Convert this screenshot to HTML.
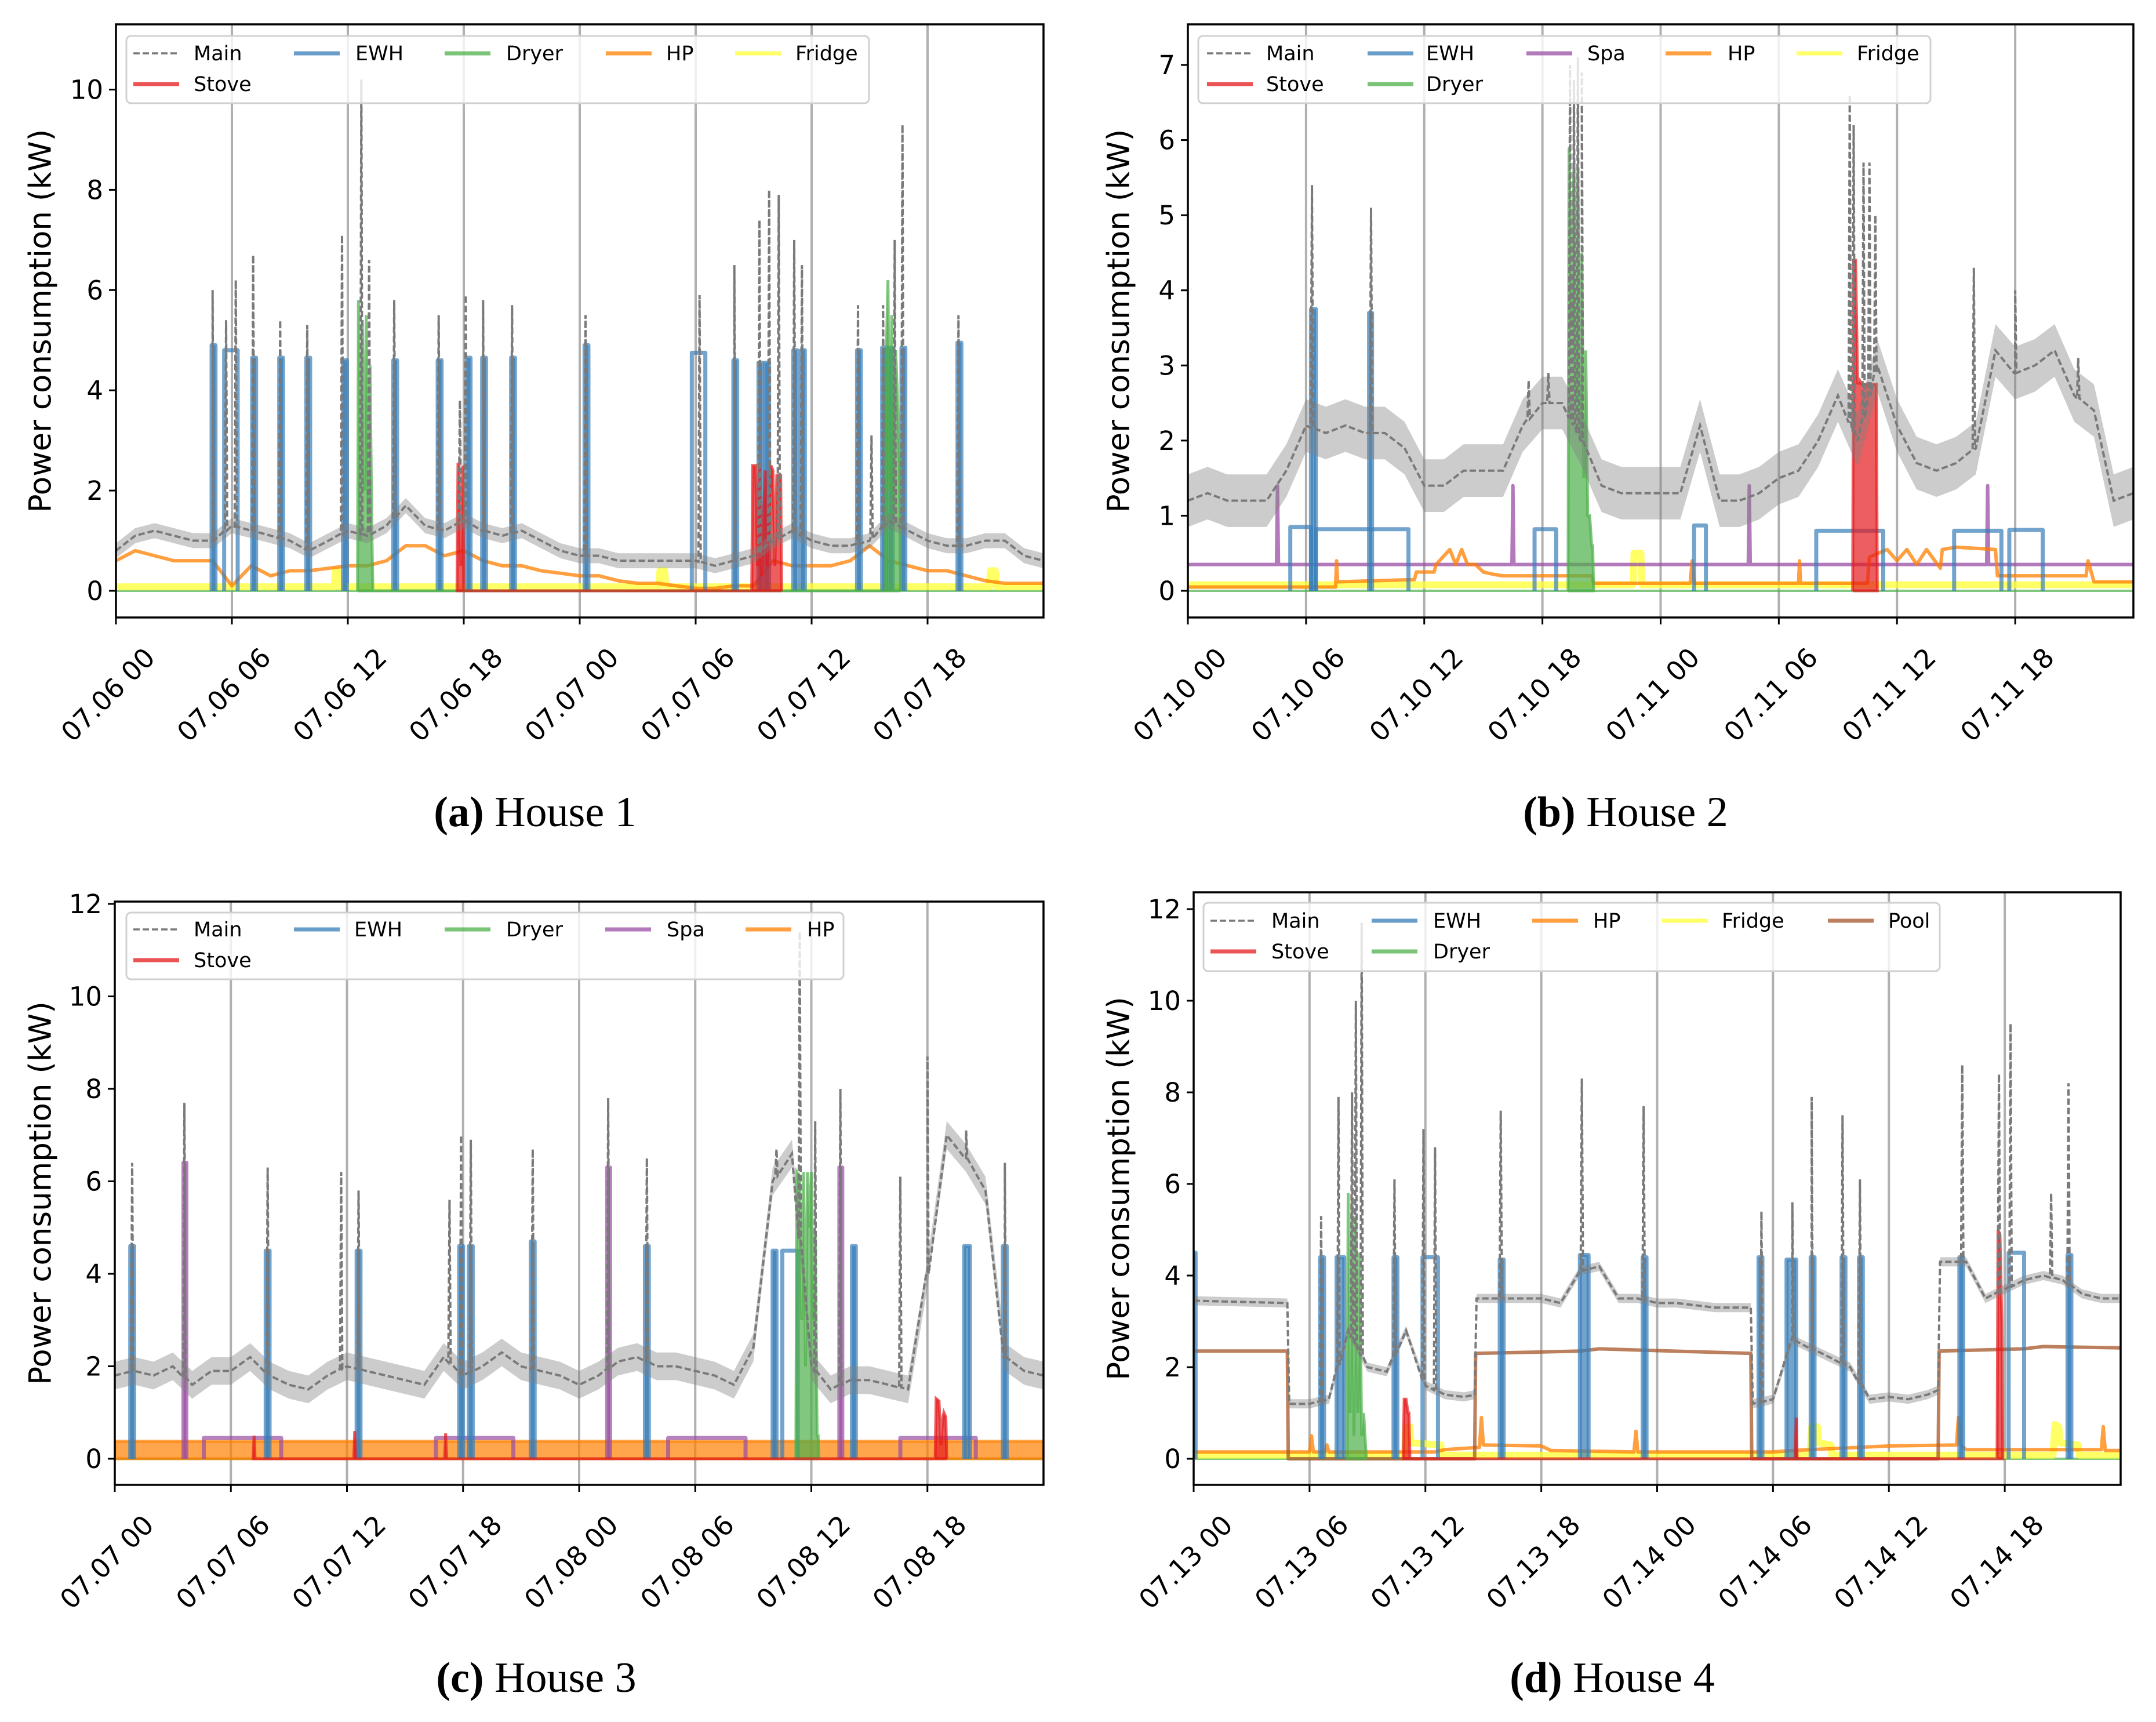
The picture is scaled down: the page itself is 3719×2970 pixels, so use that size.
<!DOCTYPE html>
<html><head><meta charset="utf-8"><style>
html,body{margin:0;padding:0;background:#fff;}
svg{display:block;font-family:"DejaVu Sans","Liberation Sans",sans-serif;}
</style></head><body>
<svg id="fig" width="3719" height="2970" viewBox="0 0 3719 2970" xmlns="http://www.w3.org/2000/svg"></svg>
<script>
const HOURS = [0,1,2,3,4,5,6,7,8,9,10,11,12,13,14,15,16,17,18,19,20,21,22,23,24,25,26,27,28,29,30,31,32,33,34,35,36,37,38,39,40,41,42,43,44,45,46,47,48];
const TICK_HOURS = [0,6,12,18,24,30,36,42];

// ---- House 1 ----
const aXLabels = ['07.06 00','07.06 06','07.06 12','07.06 18','07.07 00','07.07 06','07.07 12','07.07 18'];
const aYTicks = [0,2,4,6,8,10];
const aMainV = [0.8,1.1,1.2,1.1,1.0,1.0,1.3,1.2,1.1,1.0,0.8,1.0,1.2,1.1,1.3,1.7,1.3,1.2,1.4,1.2,1.1,1.2,1.0,0.8,0.7,0.7,0.6,0.6,0.6,0.6,0.6,0.5,0.6,0.7,1.0,1.2,1.0,0.9,0.9,1.0,1.4,1.2,1.0,0.9,0.9,1.0,1.0,0.7,0.6];
const aPeakT = [5.0,5.7,6.2,7.1,8.5,9.9,11.7,12.7,13.1,14.4,16.7,17.8,18.1,19.0,20.5,24.3,30.2,32.0,33.3,33.8,34.3,35.1,35.5,38.4,39.1,39.7,40.3,40.7,43.6];
const aPeakV = [6.0,5.4,6.2,6.7,5.4,5.3,7.1,10.2,6.6,5.8,5.5,3.8,5.9,5.8,5.7,5.5,5.9,6.5,7.4,8.0,7.9,7.0,6.5,5.7,3.1,5.7,7.0,9.3,5.5];
const aEwhS = [4.95,5.6,7.05,8.45,9.85,11.75,14.35,16.65,18.15,18.95,20.45,24.25,29.8,31.95,33.25,33.6,35.05,35.45,38.35,39.65,40.0,40.65,43.55];
const aEwhE = [5.15,6.3,7.25,8.65,10.05,11.95,14.55,16.85,18.35,19.15,20.65,24.45,30.5,32.15,33.45,33.8,35.25,35.65,38.55,39.85,40.2,40.85,43.75];
const aEwhL = [4.9,4.8,4.65,4.65,4.65,4.6,4.6,4.6,4.65,4.65,4.65,4.9,4.75,4.6,4.55,4.55,4.8,4.8,4.8,4.85,4.85,4.85,4.95];
const aDryerT = [12.5,12.55,12.65,12.75,12.85,12.95,13.05,13.15,13.25,13.3,39.8,39.85,39.95,40.05,40.15,40.25,40.35,40.45,40.55,40.6];
const aDryerV = [0,5.8,1.0,5.4,2.0,5.5,1.5,4.5,1.0,0,0,4.5,6.2,2,5.5,1.5,4.8,3.8,2.5,0];
const aStoveT = [17.65,17.7,17.75,17.85,17.95,18.0,32.9,32.95,33.1,33.2,33.3,33.4,33.6,33.7,33.9,34.0,34.1,34.2,34.4,34.45];
const aStoveV = [0,2.55,2.5,0.5,2.5,0,0,2.5,2.5,0.5,2.5,0.3,2.4,0.5,2.5,2.4,0.5,2.3,2.3,0];
const aHpV = [0.6,0.8,0.7,0.6,0.6,0.6,0.1,0.5,0.3,0.4,0.4,0.45,0.5,0.5,0.6,0.9,0.9,0.7,0.8,0.6,0.5,0.5,0.4,0.35,0.3,0.3,0.2,0.15,0.15,0.1,0.05,0.05,0.1,0.1,0.6,0.5,0.5,0.5,0.6,0.9,0.6,0.5,0.4,0.4,0.3,0.2,0.15,0.15,0.15];
const aFridgeT = [0,11.3,11.35,11.5,11.55,28.1,28.15,28.4,28.45,45.2,45.25,45.5,45.55,48];
const aFridgeV = [0.08,0.08,0.4,0.4,0.08,0.08,0.4,0.4,0.08,0.08,0.4,0.4,0.08,0.08];

// ---- House 2 ----
const bXLabels = ['07.10 00','07.10 06','07.10 12','07.10 18','07.11 00','07.11 06','07.11 12','07.11 18'];
const bYTicks = [0,1,2,3,4,5,6,7];
const bMainV = [1.2,1.3,1.2,1.2,1.2,1.6,2.2,2.1,2.2,2.1,2.1,1.9,1.4,1.4,1.6,1.6,1.6,2.2,2.5,2.5,2.0,1.4,1.3,1.3,1.3,1.3,2.2,1.2,1.2,1.3,1.5,1.6,2.0,2.6,2.0,3.0,2.2,1.7,1.6,1.7,1.9,3.2,2.9,3.0,3.2,2.6,2.4,1.2,1.3];
const bPeakT = [6.3,9.3,17.3,18.3,19.4,19.6,19.8,20.0,33.6,33.8,34.3,34.6,34.9,39.9,42.0,45.2];
const bPeakV = [5.4,5.1,2.8,2.9,7.0,6.8,7.1,6.9,6.6,6.2,5.7,5.7,5.0,4.3,4.0,3.1];
const bEwhS = [5.2,6.25,6.5,9.2,17.6,25.7,31.9,38.9,41.7];
const bEwhE = [6.25,6.5,11.2,9.35,18.7,26.3,35.3,41.3,43.4];
const bEwhL = [0.85,3.75,0.82,3.7,0.82,0.87,0.8,0.8,0.81];
const bSpaT = [0,4.5,4.55,4.6,16.45,16.5,16.55,28.45,28.5,28.55,40.55,40.6,40.65,48];
const bSpaV = [0.35,0.35,1.4,0.35,0.35,1.4,0.35,0.35,1.4,0.35,0.35,1.4,0.35,0.35];
const bDryerT = [19.3,19.35,19.5,19.6,19.7,19.8,19.9,20.0,20.1,20.2,20.3,20.4,20.5,20.55,20.6];
const bDryerV = [0,5.9,3.5,5.7,2.5,5.6,2,4.5,1.5,3.2,1.0,1.0,0.6,0.6,0];
const bStoveT = [33.75,33.8,33.9,34.0,34.1,34.2,34.5,34.8,34.95,35.0];
const bStoveV = [0,4.4,4.4,2.75,2.8,2.75,2.75,2.75,2.75,0];
const bHpT = [0,7.5,7.55,7.6,11.5,11.6,12.5,12.6,13.3,13.6,13.9,14.2,14.6,15.0,15.5,16.0,20.5,20.6,25.5,25.6,25.7,31.0,31.05,31.1,34.5,34.6,35.5,36.0,36.5,37.0,37.5,38.2,38.3,39.0,41.0,41.1,45.6,45.7,46.0,48];
const bHpV = [0.05,0.05,0.4,0.12,0.15,0.25,0.25,0.35,0.55,0.35,0.55,0.35,0.35,0.25,0.22,0.2,0.2,0.1,0.1,0.4,0.1,0.1,0.4,0.1,0.1,0.45,0.55,0.4,0.55,0.35,0.55,0.3,0.55,0.58,0.55,0.2,0.2,0.4,0.12,0.12];
const bFridgeT = [0,22.6,22.65,23.0,23.05,48];
const bFridgeV = [0.08,0.08,0.5,0.5,0.08,0.08];

// ---- House 3 ----
const cXLabels = ['07.07 00','07.07 06','07.07 12','07.07 18','07.08 00','07.08 06','07.08 12','07.08 18'];
const cYTicks = [0,2,4,6,8,10,12];
const cMainV = [1.8,1.9,1.8,2.0,1.6,1.9,1.9,2.2,1.8,1.6,1.5,1.8,2.0,1.9,1.8,1.7,1.6,2.2,1.8,2.0,2.3,2.0,1.9,1.8,1.6,1.8,2.1,2.2,2.0,2.0,1.9,1.8,1.6,2.4,6.0,6.6,2.0,1.5,1.7,1.7,1.6,1.5,4.0,7.0,6.5,5.8,2.2,1.9,1.8];
const cPeakT = [0.9,3.6,7.9,11.7,12.6,17.3,17.9,18.4,21.6,25.5,27.5,34.2,35.4,36.2,37.5,40.6,42.0,44.0,46.0];
const cPeakV = [6.4,7.7,6.3,6.2,5.8,5.6,7.0,6.9,6.7,7.8,6.5,6.7,11.4,7.3,8.0,6.1,8.7,7.1,6.4];
const cEwhS = [0.8,7.8,12.5,17.8,18.3,21.5,27.4,34.0,34.5,38.1,43.9,45.9];
const cEwhE = [1.0,8.0,12.7,18.0,18.5,21.7,27.6,34.2,35.3,38.3,44.2,46.1];
const cEwhL = [4.6,4.5,4.5,4.6,4.6,4.7,4.6,4.5,4.5,4.6,4.6,4.6];
const cSpaS = [3.55,4.6,16.6,25.45,28.6,37.45,40.6];
const cSpaE = [3.7,8.6,20.6,25.6,32.6,37.6,44.5];
const cSpaL = [6.4,0.45,0.45,6.3,0.45,6.3,0.45];
const cDryerT = [35.2,35.25,35.4,35.5,35.6,35.7,35.8,35.9,36.0,36.1,36.2,36.3,36.35,36.4];
const cDryerV = [0,6.2,6.1,3,6.2,2,6.2,5,6.2,3,4.9,0.5,0.5,0];
const cStoveT = [7.15,7.2,7.25,12.35,12.4,12.45,17.05,17.1,17.15,42.4,42.45,42.6,42.7,42.8,42.85,42.95,43.0];
const cStoveV = [0,0.5,0,0,0.6,0,0,0.55,0,0,1.3,1.25,0.3,0.9,1.0,0.9,0];
const cHpT = [0,48];
const cHpV = [0.38,0.38];

// ---- House 4 ----
const dXLabels = ['07.13 00','07.13 06','07.13 12','07.13 18','07.14 00','07.14 06','07.14 12','07.14 18'];
const dYTicks = [0,2,4,6,8,10,12];
const dMainT = [0,4.85,4.95,6,7,8,9,10,11,12,13,14,14.55,14.65,16,17,18,19,20,21,22,23,24,25,26,27,28,28.85,28.95,30,31,32,33,34,35,36,37,38,38.55,38.65,40,41,42,43,44,45,46,47,48];
const dMainV = [3.45,3.4,1.2,1.2,1.3,2.8,2.0,1.9,2.8,1.6,1.4,1.35,1.4,3.5,3.5,3.5,3.5,3.4,4.1,4.2,3.5,3.5,3.4,3.4,3.35,3.3,3.3,3.3,1.2,1.3,2.6,2.4,2.2,2.0,1.3,1.35,1.3,1.4,1.5,4.3,4.3,3.5,3.7,3.9,4.0,3.9,3.6,3.5,3.5];
const dPeakT = [6.6,7.5,8.2,8.4,8.7,10.4,11.9,12.5,15.9,20.1,23.3,29.4,31.0,32.0,33.6,34.5,39.8,41.7,42.3,44.4,45.3];
const dPeakV = [5.3,7.9,8.0,10.0,11.7,6.1,7.2,6.8,7.6,8.3,7.7,5.4,5.6,7.9,7.5,6.1,8.6,8.4,9.5,5.8,8.2];
const dEwhS = [0,6.55,7.4,10.35,11.85,15.85,20.0,23.25,29.25,30.7,31.95,33.55,34.45,39.65,42.2,45.25];
const dEwhE = [0.1,6.75,7.8,10.55,12.65,16.05,20.45,23.45,29.45,31.2,32.15,33.75,34.65,39.85,43.0,45.45];
const dEwhL = [4.5,4.4,4.4,4.4,4.4,4.35,4.45,4.4,4.4,4.35,4.4,4.4,4.4,4.4,4.5,4.45];
const dPoolT = [0,4.85,4.9,14.55,14.6,20,21,28.85,28.9,38.55,38.6,43,44,48];
const dPoolV = [2.35,2.35,0,0,2.3,2.35,2.4,2.3,0,0,2.35,2.4,2.45,2.42];
const dDryerT = [7.95,8.0,8.1,8.2,8.3,8.4,8.5,8.6,8.7,8.8,8.9,8.95];
const dDryerV = [0,5.8,1,5.7,0.5,5.3,1,4.5,0.5,1.0,0.3,0];
const dStoveT = [10.85,10.9,11.0,11.1,11.15,11.2,31.15,31.2,31.25,41.6,41.65,41.75,41.85,41.9];
const dStoveV = [0,1.3,1.3,1.0,1.0,0,0,0.9,0,0,5.0,4.9,3.0,0];
const dHpT = [0,6.0,6.1,6.2,6.8,6.9,7.0,12.5,13,14.8,14.9,15.0,18,18.5,22.8,22.9,23.0,30,31,36,39.5,39.6,39.7,40,47.0,47.1,47.2,48];
const dHpV = [0.15,0.15,0.5,0.15,0.15,0.3,0.15,0.15,0.2,0.25,0.9,0.3,0.28,0.18,0.15,0.6,0.15,0.15,0.18,0.28,0.3,0.9,0.3,0.2,0.2,0.7,0.18,0.18];
const dFridgeT = [0,10.9,11.0,11.2,11.25,12.8,12.85,31.9,32.0,32.3,32.35,33.0,33.05,44.5,44.6,44.8,44.85,45.8,45.85,48];
const dFridgeV = [0.08,0.08,0.7,0.7,0.35,0.3,0.08,0.08,0.7,0.7,0.35,0.3,0.08,0.08,0.75,0.7,0.35,0.3,0.08,0.08];

const COL = {main:'#7a7a7a', ewh:'#377eb8', stove:'#e41a1c', dryer:'#4daf4a', spa:'#984ea3', hp:'#ff7f00', fridge:'#ffff33', pool:'#a65628'};
const NS = 'http://www.w3.org/2000/svg';
const svg = document.getElementById('fig');

function mk(tag, attrs, parent){
  const el = document.createElementNS(NS, tag);
  for (const k in attrs) el.setAttribute(k, attrs[k]);
  (parent||svg).appendChild(el);
  return el;
}

const panels = [
  {id:'a', caption:'House 1', x0:200, x1:1800, top:42, bot:1065, y0:1019, yMaxV:10, yMaxPx:154.5, yTicks:aYTicks, xLabels:aXLabels, titleX:70, capX:923, capY:1425, noise:0.15,
   mainT:HOURS, mainV:aMainV, peakT:aPeakT, peakV:aPeakV,
   layers:[
     {kind:'band', name:'fridge', t:aFridgeT, v:aFridgeV},
     {kind:'line', name:'hp', t:HOURS, v:aHpV},
     {kind:'pulse', name:'ewh', s:aEwhS, e:aEwhE, l:aEwhL},
     {kind:'area', name:'dryer', t:aDryerT, v:aDryerV},
     {kind:'area', name:'stove', t:aStoveT, v:aStoveV}],
   legend:{box:[218,62,1499,178], hx:[230,507,767,1045,1268], tx:[334,613,873,1149,1372], ry:[92,145],
     items:[['Main','main',0,0],['EWH','ewh',1,0],['Dryer','dryer',2,0],['HP','hp',3,0],['Fridge','fridge',4,0],['Stove','stove',0,1]]}},
  {id:'b', caption:'House 2', x0:2049, x1:3680, top:42, bot:1065, y0:1019, yMaxV:7, yMaxPx:112, yTicks:bYTicks, xLabels:bXLabels, titleX:1930, capX:2804, capY:1425, noise:0.35,
   mainT:HOURS, mainV:bMainV, peakT:bPeakT, peakV:bPeakV,
   layers:[
     {kind:'band', name:'fridge', t:bFridgeT, v:bFridgeV},
     {kind:'line', name:'spa', t:bSpaT, v:bSpaV},
     {kind:'line', name:'hp', t:bHpT, v:bHpV},
     {kind:'pulse', name:'ewh', s:bEwhS, e:bEwhE, l:bEwhL},
     {kind:'area', name:'dryer', t:bDryerT, v:bDryerV},
     {kind:'area', name:'stove', t:bStoveT, v:bStoveV}],
   legend:{box:[2067,62,3330,178], hx:[2082,2359,2633,2873,3099], tx:[2184,2460,2738,2980,3203], ry:[92,145],
     items:[['Main','main',0,0],['EWH','ewh',1,0],['Spa','spa',2,0],['HP','hp',3,0],['Fridge','fridge',4,0],['Stove','stove',0,1],['Dryer','dryer',1,1]]}},
  {id:'c', caption:'House 3', x0:198, x1:1800, top:1555, bot:2561, y0:2516, yMaxV:12, yMaxPx:1559, yTicks:cYTicks, xLabels:cXLabels, titleX:70, capX:925, capY:2918, noise:0.3,
   mainT:HOURS, mainV:cMainV, peakT:cPeakT, peakV:cPeakV,
   layers:[
     {kind:'area', name:'hp', t:cHpT, v:cHpV},
     {kind:'pulse', name:'spa', s:cSpaS, e:cSpaE, l:cSpaL},
     {kind:'pulse', name:'ewh', s:cEwhS, e:cEwhE, l:cEwhL},
     {kind:'area', name:'dryer', t:cDryerT, v:cDryerV},
     {kind:'area', name:'stove', t:cStoveT, v:cStoveV}],
   legend:{box:[218,1574,1455,1689], hx:[230,507,767,1044,1286], tx:[334,611,873,1150,1392], ry:[1603,1656],
     items:[['Main','main',0,0],['EWH','ewh',1,0],['Dryer','dryer',2,0],['Spa','spa',3,0],['HP','hp',4,0],['Stove','stove',0,1]]}},
  {id:'d', caption:'House 4', x0:2059, x1:3658, top:1539, bot:2561, y0:2516, yMaxV:12, yMaxPx:1568, yTicks:dYTicks, xLabels:dXLabels, titleX:1930, capX:2781, capY:2918, noise:0.1,
   mainT:dMainT, mainV:dMainV, peakT:dPeakT, peakV:dPeakV,
   layers:[
     {kind:'band', name:'fridge', t:dFridgeT, v:dFridgeV},
     {kind:'line', name:'hp', t:dHpT, v:dHpV},
     {kind:'line', name:'pool', t:dPoolT, v:dPoolV},
     {kind:'pulse', name:'ewh', s:dEwhS, e:dEwhE, l:dEwhL},
     {kind:'area', name:'dryer', t:dDryerT, v:dDryerV},
     {kind:'area', name:'stove', t:dStoveT, v:dStoveV}],
   legend:{box:[2076,1557,3346,1675], hx:[2088,2366,2643,2867,3153], tx:[2193,2472,2748,2970,3257], ry:[1588,1641],
     items:[['Main','main',0,0],['EWH','ewh',1,0],['HP','hp',2,0],['Fridge','fridge',3,0],['Pool','pool',4,0],['Stove','stove',0,1],['Dryer','dryer',1,1]]}}
];

function interp(T, V, t){
  if (t <= T[0]) return V[0];
  for (let i=1;i<T.length;i++){ if (t <= T[i]) { const f=(t-T[i-1])/(T[i]-T[i-1]); return V[i-1]+f*(V[i]-V[i-1]); } }
  return V[V.length-1];
}

panels.forEach(P => {
  const xs = t => P.x0 + t/48*(P.x1-P.x0);
  const ys = v => P.y0 - v*(P.y0-P.yMaxPx)/P.yMaxV;
  const g = mk('g', {});
  
  
  const clipId = 'clip'+P.id;
  const cp = mk('clipPath', {id:clipId}, g);
  mk('rect', {x:P.x0, y:P.top, width:P.x1-P.x0, height:P.bot-P.top}, cp);
  const plot = mk('g', {'clip-path':'url(#'+clipId+')'}, g);
  
  

  TICK_HOURS.forEach(h => {
    if (h===0) return;
    const gl = mk('line', {x1:xs(h), x2:xs(h), y1:P.top, y2:P.bot, stroke:'#b0b0b0', 'stroke-width':4}, plot);
    
    
  });

  const zl = mk('line', {x1:P.x0, x2:P.x1, y1:ys(0), y2:ys(0), stroke:COL.dryer, 'stroke-opacity':0.7, 'stroke-width':4}, plot);
  
  

  P.layers.forEach(L => {
    const c = COL[L.name];
    if (L.kind === 'pulse') {
      for (let i=0;i<L.s.length;i++){
        const d = 'M'+xs(L.s[i])+','+ys(0)+' L'+xs(L.s[i])+','+ys(L.l[i])+' L'+xs(L.e[i])+','+ys(L.l[i])+' L'+xs(L.e[i])+','+ys(0);
        const narrow = (L.e[i]-L.s[i]) < 0.6;
        const p = mk('path', {d:d, fill: narrow ? c : 'none', 'fill-opacity':0.7, stroke:c, 'stroke-opacity':0.7, 'stroke-width':7, 'stroke-linejoin':'round'}, plot);
        
        
      }
    } else {
      let d = '';
      L.t.forEach((t,i) => { d += (i?' L':'M') + xs(t).toFixed(1) + ',' + ys(L.v[i]).toFixed(1); });
      if (L.kind === 'area') {
        const a = mk('path', {d: d + ' L'+xs(L.t[L.t.length-1])+','+ys(0)+' L'+xs(L.t[0])+','+ys(0)+' Z', fill:c, 'fill-opacity':0.7, stroke:c, 'stroke-opacity':0.7, 'stroke-width':5}, plot);
        
        
      } else {
        const w = L.kind === 'band' ? 12 : 6;
        const p = mk('path', {d:d, fill:'none', stroke:c, 'stroke-opacity':0.75, 'stroke-width':w, 'stroke-linejoin':'round'}, plot);
        
        
      }
    }
  });

  const pts = [];
  P.mainT.forEach((t,i) => pts.push([t, P.mainV[i]]));
  P.peakT.forEach((t,i) => {
    const b = interp(P.mainT, P.mainV, t);
    pts.push([t-0.06, b]); pts.push([t, P.peakV[i]]); pts.push([t+0.06, b]);
  });
  pts.sort((a,b) => a[0]-b[0]);
  let up='', dn='';
  P.mainT.forEach((t,i) => { up += (i?' L':'M') + xs(t).toFixed(1) + ',' + ys(P.mainV[i]+P.noise).toFixed(1); });
  for (let i=P.mainT.length-1;i>=0;i--) dn += ' L' + xs(P.mainT[i]).toFixed(1) + ',' + ys(Math.max(0,P.mainV[i]-P.noise)).toFixed(1);
  const band = mk('path', {d: up+dn+' Z', fill:'#808080', 'fill-opacity':0.4, stroke:'none'}, plot);
  
  
  let md = '';
  pts.forEach((p,i) => { md += (i?' L':'M') + xs(p[0]).toFixed(1) + ',' + ys(p[1]).toFixed(1); });
  const mp = mk('path', {d:md, fill:'none', stroke:COL.main, 'stroke-width':4, 'stroke-dasharray':'11,5'}, plot);
  
  

  const fr = mk('rect', {x:P.x0, y:P.top, width:P.x1-P.x0, height:P.bot-P.top, fill:'none', stroke:'#000', 'stroke-width':3.5}, g);
  
  

  P.yTicks.forEach(v => {
    mk('line', {x1:P.x0-12, x2:P.x0, y1:ys(v), y2:ys(v), stroke:'#000', 'stroke-width':3}, g);
    const tx = mk('text', {x:P.x0-22, y:ys(v)+16, 'text-anchor':'end', 'font-size':45, fill:'#000'}, g);
    tx.textContent = String(v);
    
    
  });
  TICK_HOURS.forEach((h,i) => {
    const x = xs(h);
    mk('line', {x1:x, x2:x, y1:P.bot, y2:P.bot+12, stroke:'#000', 'stroke-width':3}, g);
    const ax = x+70, ay = P.bot+72;
    const tx = mk('text', {x:ax, y:ay, 'text-anchor':'end', 'font-size':46, fill:'#000', transform:'rotate(-45 '+ax+' '+ay+')'}, g);
    tx.textContent = P.xLabels[i];
    
    
  });
  const cy = (P.top+P.bot)/2;
  const yt = mk('text', {x:P.titleX, y:cy, 'text-anchor':'middle', 'font-size':53, fill:'#000', transform:'rotate(-90 '+P.titleX+' '+cy+')', 'dominant-baseline':'central'}, g);
  yt.textContent = 'Power consumption (kW)';
  
  

  const Lg = P.legend;
  const lg = mk('g', {}, g);
  
  
  mk('rect', {x:Lg.box[0], y:Lg.box[1], width:Lg.box[2]-Lg.box[0], height:Lg.box[3]-Lg.box[1], rx:8, fill:'#fff', 'fill-opacity':0.8, stroke:'#d0d0d0', 'stroke-width':3}, lg);
  Lg.items.forEach(it => {
    const hx = Lg.hx[it[2]], tx = Lg.tx[it[2]], y = Lg.ry[it[3]];
    const e = mk('g', {}, lg);
    
    
    const attrs = {x1:hx, x2:hx+79, y1:y, y2:y, stroke:COL[it[1]], 'stroke-width': it[1]==='main'?3.5:7, 'stroke-opacity': it[1]==='main'?1:0.75};
    if (it[1]==='main') attrs['stroke-dasharray'] = '11,5';
    mk('line', attrs, e);
    const t = mk('text', {x:tx, y:y+12, 'font-size':35, fill:'#000'}, e);
    t.textContent = it[0];
  });

  const cap = mk('text', {x:P.capX, y:P.capY, 'text-anchor':'middle', 'font-size':74, fill:'#000', 'font-family':'"Liberation Serif", serif'}, g);
  
  
  const b = mk('tspan', {'font-weight':'bold'}, cap);
  b.textContent = '(' + P.id + ')';
  const r = mk('tspan', {}, cap);
  r.textContent = ' ' + P.caption;
});
</script>
</body></html>
